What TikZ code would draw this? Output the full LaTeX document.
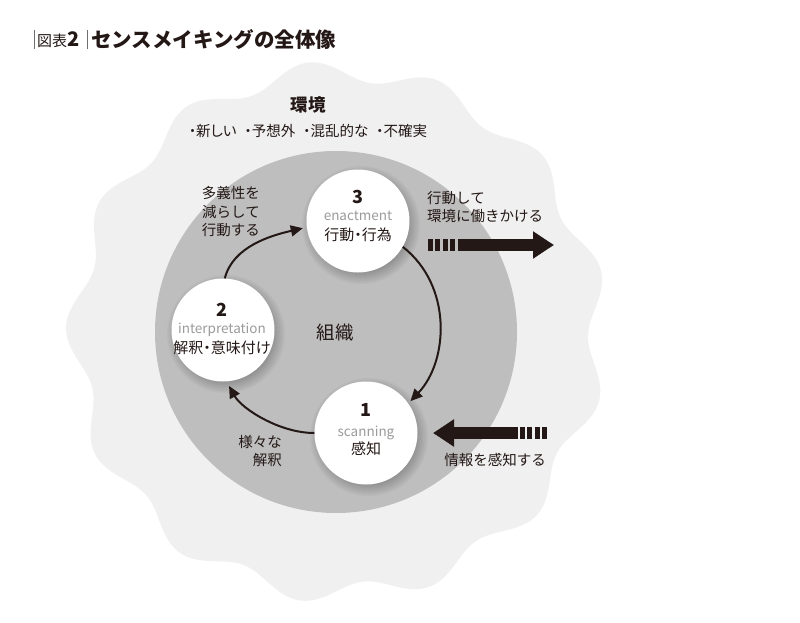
\documentclass[tikz,border=0pt]{standalone}
\usepackage{fontspec}
\setmainfont{Noto Sans CJK JP}
\usetikzlibrary{arrows.meta}
\definecolor{ink}{RGB}{35,24,21}
\definecolor{envgray}{RGB}{240,240,240}
\definecolor{orggray}{RGB}{190,190,190}
\definecolor{engray}{RGB}{155,155,155}
\definecolor{barc}{RGB}{110,110,110}
\begin{document}
\begin{tikzpicture}[x=1pt,y=-1pt,
  txt/.style={text=ink,font=\fontsize{14.5}{18.5}\selectfont,inner sep=0pt},
  jp/.style={text=ink,font=\fontsize{15}{18.5}\selectfont\addfontfeature{RawFeature=+palt},inner sep=0pt},
  stage/.style={circle,fill=white,minimum size=103pt,inner sep=0pt},
  softshadow/.style={fill=black,opacity=0.028},
  num/.style={text=ink,font=\fontsize{18}{18}\selectfont\bfseries,inner sep=0pt},
  eng/.style={text=engray,font=\fontsize{13.5}{14}\selectfont,inner sep=0pt},
  cyc/.style={draw=ink,line width=2pt,-{Triangle[length=12pt,width=11pt]}},
  bigarrow/.style={draw=ink,line width=12pt,-{Triangle[length=21pt,width=26pt]}},
  dashpart/.style={draw=ink,line width=12pt,dash pattern=on 5pt off 2.3pt},
  titlebar/.style={draw=barc,line width=0.8pt}
]
\useasboundingbox[fill=white] (0,0) rectangle (800,623);

% environment (wavy)
\fill[envgray] plot[smooth cycle,domain=0:358.5,samples=240]
  ({337+(261+10*cos(13*(\x-96)))*cos(\x)},{332-(261+10*cos(13*(\x-96)))*sin(\x)});
% organisation
\fill[orggray] (336,332) circle[radius=181pt];

% title
\draw[titlebar] (34,30) -- (34,49);
\node[txt,anchor=west,font=\fontsize{15}{15}\selectfont] (tlabel) at (37,40) {図表{\bfseries\fontsize{20}{20}\selectfont 2}};
\draw[titlebar] (87,30) -- (87,49);
\node[txt,anchor=west,font=\fontsize{20.5}{20.5}\selectfont\bfseries] (title) at (91,40) {センスメイキングの全体像};

% environment text
\node[txt,font=\fontsize{17.5}{18}\selectfont\bfseries] (env) at (308,105) {環境};
\node[txt,font=\fontsize{14.5}{18}\selectfont\addfontfeature{RawFeature=+palt}] (envlist) at (308,131) {・新しい\hspace{8pt}・予想外\hspace{8pt}・混乱的な\hspace{8pt}・不確実};

\node[txt,font=\fontsize{18.5}{18.5}\selectfont] (org) at (335,333) {組織};

% stage positions and soft shadows
\coordinate (c3) at (358,221);
\coordinate (c2) at (223,330);
\coordinate (c1) at (366,433);
\foreach \c in {c1,c2,c3}{
  \foreach \k in {0,...,8}{
    \fill[softshadow] ([xshift=3pt,yshift=-4pt]\c) circle[radius={47pt+1.5pt*\k}];
  }
}

% stages
\node[stage] (n3) at (c3) {};
\node[stage] (n2) at (c2) {};
\node[stage] (n1) at (c1) {};

\node[num] (n3num) at (358,197) {3};
\node[eng] (n3eng) at (358,216) {enactment};
\node[jp] (n3jp) at (358,235) {行動・行為};

\node[num] (n2num) at (222,310) {2};
\node[eng] (n2eng) at (222,330) {interpretation};
\node[jp] (n2jp) at (222,348) {解釈・意味付け};

\node[num] (n1num) at (366,410) {1};
\node[eng] (n1eng) at (366,433) {scanning};
\node[jp] (n1jp) at (366,449) {感知};

% cycle arrows
\draw[cyc,shorten >=4pt] (n2.88) .. controls +(8,-32) and +(-35,8) .. (n3.187);
\draw[cyc,shorten >=3pt] (n3.-30) .. controls +(50,39) and +(40,-42) .. (n1.35);
\draw[cyc,shorten >=5pt] (n1.180) .. controls +(-35,0) and +(15,27) .. (n2.-86);

% cycle labels
\node[txt,anchor=east,align=right] (lab23) at (260,212) {多義性を\\減らして\\行動する};
\node[txt,anchor=east,align=right] (lab12) at (282,451) {様々な\\解釈};

% outgoing arrow
\node[txt,anchor=west,align=left] (outlab) at (427,207) {行動して\\環境に働きかける};
\coordinate (outA) at (428,245);
\coordinate (outB) at (455,245);
\coordinate (outS) at (457.5,245);
\coordinate (outC) at (554,245);
\draw[dashpart] (outA) -- (outB);
\draw[bigarrow] (outS) -- (outC);

% incoming arrow
\coordinate (inA) at (520,433);
\coordinate (inB) at (547,433);
\coordinate (inS) at (518,433);
\coordinate (inC) at (433,433);
\draw[dashpart] (inA) -- (inB);
\draw[bigarrow] (inS) -- (inC);
\node[txt] (inlab) at (495,460) {情報を感知する};
\end{tikzpicture}
\end{document}
